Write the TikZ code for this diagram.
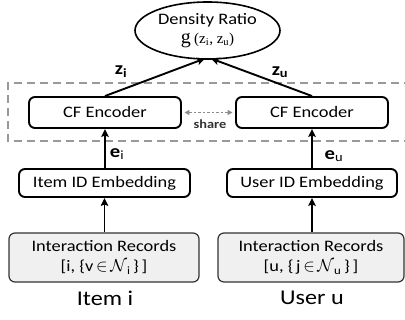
\documentclass[tikz,border=0pt]{standalone}
\usepackage{fontspec}
\setmainfont{Carlito}[FakeStretch=1.15]
\newfontfamily\seriffont{Liberation Serif}
\usetikzlibrary{arrows.meta,shapes.geometric}
\begin{document}
\begin{tikzpicture}[x=1pt,y=-1pt,
 box/.style={draw, line width=1.9pt, rounded corners=6pt, inner sep=0pt, font=\fontsize{16}{18}\selectfont},
 rec/.style={draw=black!80, fill=black!6, line width=1.2pt, rounded corners=6pt, inner sep=0pt, align=center, font=\fontsize{16}{20}\selectfont},
 arr/.style={-{Stealth[length=8pt,width=7.5pt,inset=1.5pt]}, line width=1.9pt},
 lab/.style={font=\fontsize{18}{20}\selectfont\bfseries},
 sharearr/.style={{Triangle[length=5pt,width=5pt]}-{Triangle[length=5pt,width=5pt]}, draw=black!45, line width=1.4pt, dash pattern=on 2.5pt off 2pt, shorten <=2.5pt, shorten >=2.5pt},
 grp/.style={draw=black!40, line width=1.5pt, dash pattern=on 8pt off 5pt}
]
\useasboundingbox (0,0) rectangle (405,320);
% dashed group
\draw[grp] (412,83) -- (8,83) -- (8,141) -- (412,141);
% ellipse
\node[draw, ellipse, line width=1.6pt, minimum width=145pt, minimum height=57pt, inner sep=0pt, align=center,
  font=\fontsize{16}{18}\selectfont] (dr) at (207.5,30.5)
  {Density Ratio\\[1pt]{\seriffont\fontsize{20}{20}\selectfont g\,{\fontsize{15}{15}\selectfont(z\textsubscript{i}, z\textsubscript{u})}}};
% encoders
\node[box, minimum width=152pt, minimum height=31pt] (cfl) at (105,112.5) {CF Encoder};
\node[box, minimum width=152pt, minimum height=31pt] (cfr) at (312,112.5) {CF Encoder};
% embeddings
\node[box, minimum width=171pt, minimum height=28pt] (iemb) at (104.5,183) {Item ID Embedding};
\node[box, minimum width=170pt, minimum height=28pt] (uemb) at (312,183) {User ID Embedding};
% records
\node[rec, minimum width=190pt, minimum height=49pt] (irec) at (104,257.5)
  {Interaction Records\\ {[}i, \{v\,$\in$\,$\mathcal{N}$\textsubscript{i}\,\}\,{]}};
\node[rec, minimum width=186pt, minimum height=49pt] (urec) at (311,257.5)
  {Interaction Records\\ {[}u, \{\,j\,$\in$\,$\mathcal{N}$\textsubscript{u}\,\}\,{]}};
% bottom labels
\node[font=\fontsize{21}{22}\selectfont] (itl) at (105,298) {Item i};
\node[font=\fontsize{21}{22}\selectfont] (usl) at (312,298) {User u};
% arrows
\draw[arr] (irec.north -| iemb.south) -- (iemb.south);
\draw[arr] (urec.north -| uemb.south) -- (uemb.south);
\draw[arr] (iemb.north -| cfl.south) -- (cfl.south);
\draw[arr] (uemb.north) -- (cfr.south);
\coordinate (tl) at (205,58.5);
\coordinate (tr) at (211,58.5);
\draw[arr] (cfl.north) -- (tl);
\draw[arr] (cfr.north) -- (tr);
\draw[sharearr] (cfl.east) -- (cfr.west);
% labels
\node[lab] (zi) at (121,72) {z\textsubscript{i}};
\node[lab] (zu) at (280,72) {z\textsubscript{u}};
\node[lab] (ei) at (117,154) {e\textsubscript{\mdseries i}};
\node[lab] (eu) at (334,156) {e\textsubscript{\mdseries u}};
\node[font=\fontsize{12.5}{12.5}\selectfont\bfseries, text=black!80] (sh) at (210,124.5) {share};
\end{tikzpicture}
\end{document}
